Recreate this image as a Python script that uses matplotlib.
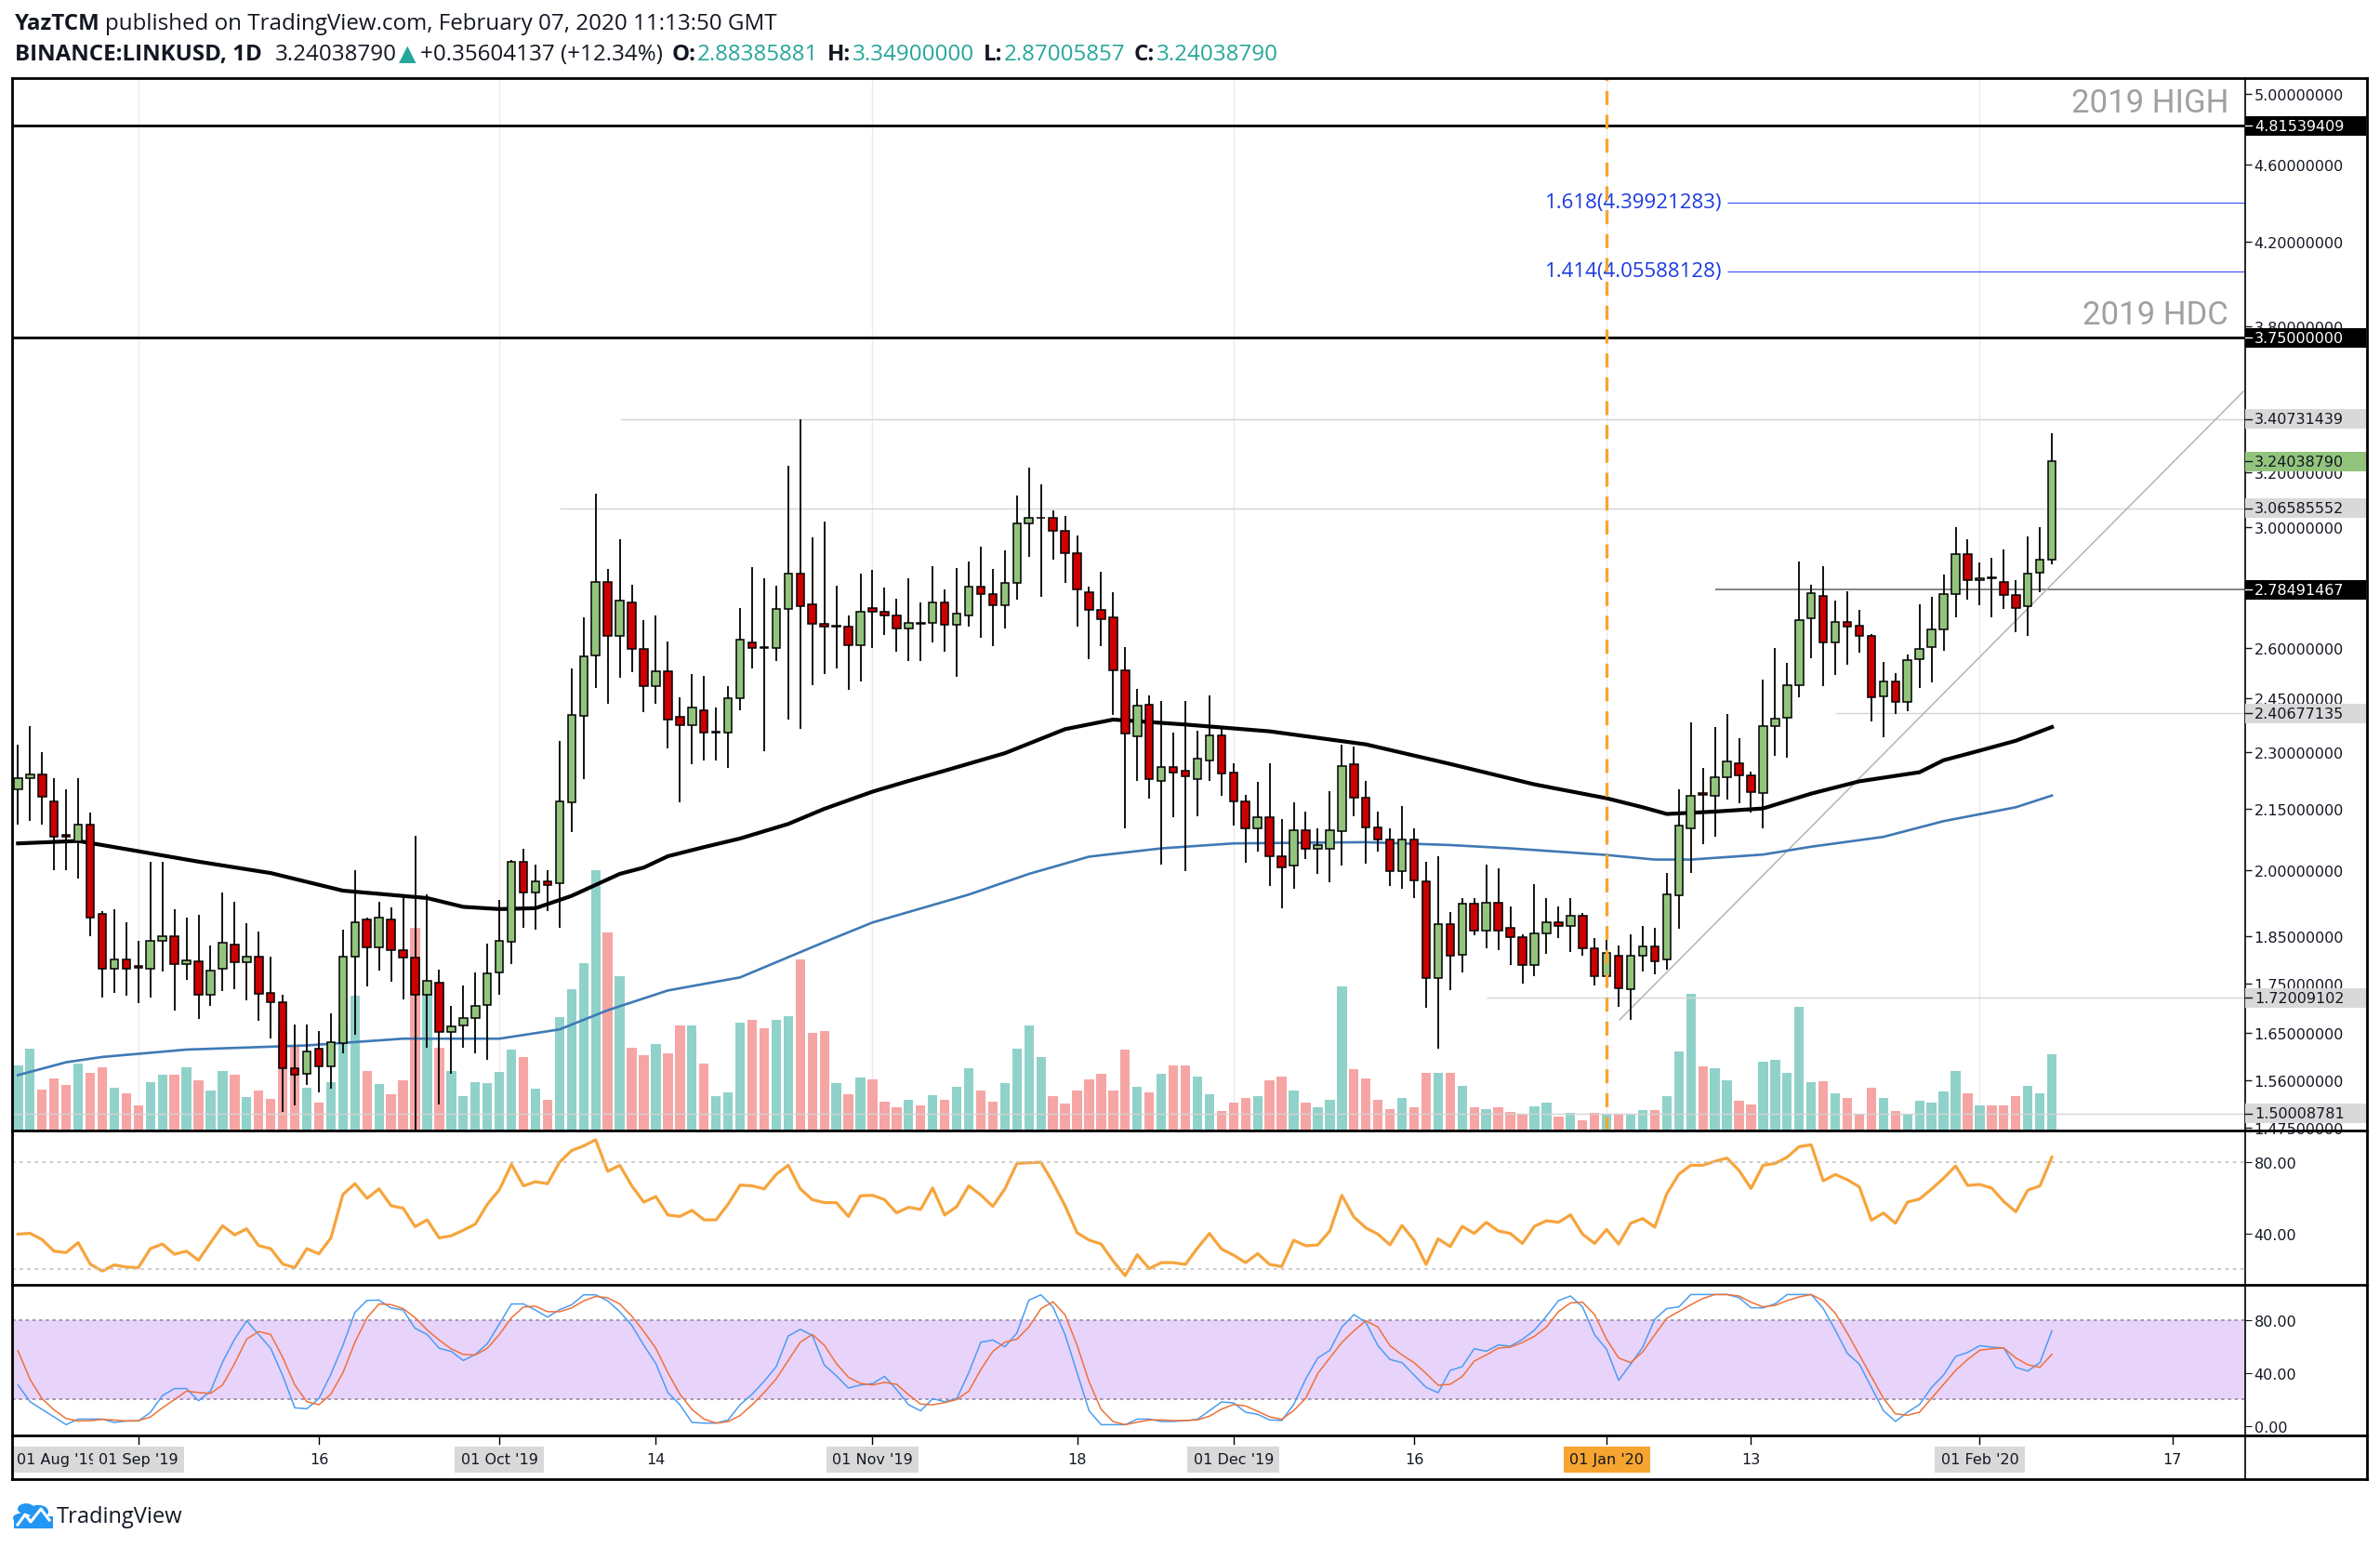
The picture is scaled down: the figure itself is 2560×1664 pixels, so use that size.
import numpy as np
import matplotlib
matplotlib.use("Agg")
import matplotlib.pyplot as plt
from matplotlib.lines import Line2D
from matplotlib.patches import Rectangle, Circle

# ---------------- data ----------------
start_date = np.datetime64('2019-08-22')

opens = [2.20, 2.23, 2.24, 2.17, 2.085, 2.07, 2.11, 1.90, 1.78, 1.80,
         1.786, 1.78, 1.84, 1.85, 1.79, 1.796, 1.727, 1.78, 1.832, 1.794,
         1.805, 1.73, 1.712, 1.583, 1.572, 1.619, 1.586, 1.63, 1.805, 1.886,
         1.825, 1.886, 1.819, 1.804, 1.727, 1.751, 1.652, 1.665, 1.680, 1.705,
         1.772, 1.837, 2.019, 1.947, 1.973, 1.970, 2.167, 2.40, 2.576, 2.809,
         2.638, 2.744, 2.597, 2.484, 2.530, 2.398, 2.374, 2.416, 2.352, 2.353,
         2.449, 2.618, 2.602, 2.60, 2.723, 2.838, 2.738, 2.675, 2.666, 2.666,
         2.608, 2.725, 2.713, 2.701, 2.660, 2.678, 2.677, 2.742, 2.671, 2.701,
         2.796, 2.770, 2.735, 2.808, 3.01, 3.031, 3.032, 2.985, 2.908, 2.777,
         2.719, 2.695, 2.533, 2.343, 2.432, 2.222, 2.258, 2.249, 2.226, 2.277,
         2.346, 2.244, 2.169, 2.100, 2.128, 2.032, 2.010, 2.096, 2.050, 2.050,
         2.095, 2.266, 2.179, 2.104, 2.073, 1.997, 2.073, 1.973, 1.761, 1.877,
         1.810, 1.922, 1.863, 1.925, 1.869, 1.847, 1.788, 1.856, 1.880, 1.872,
         1.896, 1.823, 1.765, 1.808, 1.737, 1.808, 1.828, 1.800, 1.942, 2.102,
         2.19, 2.184, 2.231, 2.268, 2.237, 2.19, 2.371, 2.394, 2.488, 2.694,
         2.764, 2.617, 2.682, 2.670, 2.636, 2.456, 2.499, 2.440, 2.565, 2.602,
         2.656, 2.772, 2.905, 2.816, 2.827, 2.81, 2.767, 2.73, 2.84, 2.88385881]
highs = [2.32, 2.37, 2.30, 2.23, 2.20, 2.23, 2.14, 1.905, 1.91, 1.88,
         1.84, 2.02, 2.02, 1.91, 1.89, 1.897, 1.83, 1.948, 1.927, 1.878,
         1.861, 1.806, 1.727, 1.666, 1.666, 1.653, 1.688, 1.865, 1.999, 1.89,
         1.927, 1.913, 1.938, 2.083, 1.943, 1.779, 1.703, 1.745, 1.773, 1.834,
         1.930, 2.025, 2.050, 2.014, 2.0, 2.330, 2.537, 2.697, 3.120, 2.853,
         2.957, 2.801, 2.686, 2.701, 2.621, 2.454, 2.521, 2.515, 2.422, 2.486,
         2.726, 2.859, 2.822, 2.797, 3.223, 3.407, 2.962, 3.018, 2.799, 2.702,
         2.839, 2.85, 2.791, 2.755, 2.822, 2.742, 2.864, 2.785, 2.858, 2.878,
         2.929, 2.853, 2.916, 3.114, 3.215, 3.153, 3.057, 3.038, 2.969, 2.796,
         2.846, 2.777, 2.602, 2.476, 2.459, 2.441, 2.353, 2.442, 2.357, 2.458,
         2.367, 2.268, 2.186, 2.219, 2.268, 2.124, 2.167, 2.143, 2.100, 2.195,
         2.320, 2.314, 2.223, 2.143, 2.100, 2.157, 2.100, 2.020, 2.034, 1.904,
         1.935, 1.935, 2.013, 2.004, 1.915, 1.853, 1.968, 1.936, 1.915, 1.936,
         1.901, 1.846, 1.857, 1.829, 1.853, 1.872, 1.868, 1.994, 2.199, 2.382,
         2.257, 2.367, 2.404, 2.337, 2.247, 2.505, 2.599, 2.553, 2.879, 2.802,
         2.864, 2.748, 2.779, 2.719, 2.642, 2.558, 2.523, 2.579, 2.738, 2.761,
         2.835, 3.0, 2.955, 2.877, 2.891, 2.921, 2.816, 2.966, 3.0, 3.349]
lows = [2.11, 2.12, 2.11, 2.00, 2.00, 1.98, 1.85, 1.72, 1.73, 1.725,
        1.71, 1.72, 1.775, 1.695, 1.756, 1.677, 1.703, 1.733, 1.737, 1.715,
        1.674, 1.639, 1.503, 1.515, 1.552, 1.539, 1.545, 1.611, 1.646, 1.744,
        1.776, 1.753, 1.716, 1.46, 1.621, 1.516, 1.572, 1.622, 1.610, 1.598,
        1.727, 1.790, 1.868, 1.864, 1.905, 1.868, 2.091, 2.228, 2.48, 2.435,
        2.511, 2.526, 2.411, 2.435, 2.308, 2.167, 2.266, 2.277, 2.277, 2.257,
        2.415, 2.538, 2.302, 2.561, 2.388, 2.363, 2.489, 2.522, 2.538, 2.474,
        2.499, 2.599, 2.639, 2.588, 2.560, 2.56, 2.617, 2.588, 2.513, 2.666,
        2.630, 2.606, 2.660, 2.753, 2.894, 2.762, 2.886, 2.806, 2.666, 2.567,
        2.606, 2.401, 2.102, 2.222, 2.177, 2.013, 2.130, 1.997, 2.131, 2.221,
        2.183, 2.107, 2.018, 2.044, 1.962, 1.911, 1.957, 2.027, 1.992, 1.972,
        2.010, 2.131, 2.015, 2.045, 1.963, 1.956, 1.934, 1.700, 1.619, 1.735,
        1.773, 1.851, 1.823, 1.819, 1.788, 1.749, 1.765, 1.811, 1.846, 1.816,
        1.807, 1.745, 1.757, 1.701, 1.675, 1.775, 1.769, 1.779, 1.866, 1.993,
        2.063, 2.08, 2.174, 2.164, 2.141, 2.101, 2.289, 2.285, 2.453, 2.569,
        2.485, 2.517, 2.549, 2.585, 2.384, 2.340, 2.404, 2.412, 2.48, 2.497,
        2.591, 2.695, 2.751, 2.734, 2.695, 2.723, 2.648, 2.637, 2.777, 2.87005857]
closes = [2.23, 2.24, 2.18, 2.08, 2.08, 2.11, 1.89, 1.78, 1.80, 1.78,
          1.783, 1.84, 1.85, 1.79, 1.797, 1.727, 1.776, 1.836, 1.793, 1.805,
          1.729, 1.711, 1.583, 1.570, 1.615, 1.586, 1.633, 1.805, 1.880, 1.825,
          1.891, 1.819, 1.803, 1.727, 1.754, 1.652, 1.663, 1.680, 1.703, 1.771,
          1.839, 2.019, 1.947, 1.973, 1.965, 2.169, 2.402, 2.574, 2.809, 2.638,
          2.749, 2.597, 2.485, 2.530, 2.390, 2.374, 2.422, 2.353, 2.354, 2.449,
          2.625, 2.601, 2.600, 2.723, 2.838, 2.730, 2.676, 2.666, 2.668, 2.608,
          2.713, 2.713, 2.701, 2.660, 2.679, 2.676, 2.742, 2.671, 2.708, 2.796,
          2.770, 2.735, 2.806, 3.010, 3.032, 3.033, 2.985, 2.908, 2.785, 2.719,
          2.689, 2.533, 2.349, 2.428, 2.228, 2.258, 2.243, 2.233, 2.281, 2.346,
          2.241, 2.168, 2.100, 2.128, 2.032, 2.006, 2.096, 2.050, 2.060, 2.096,
          2.262, 2.179, 2.104, 2.073, 1.997, 2.073, 1.975, 1.761, 1.877, 1.807,
          1.922, 1.863, 1.925, 1.863, 1.847, 1.788, 1.856, 1.880, 1.873, 1.896,
          1.823, 1.765, 1.813, 1.739, 1.808, 1.828, 1.796, 1.943, 2.109, 2.184,
          2.185, 2.231, 2.274, 2.237, 2.194, 2.371, 2.392, 2.488, 2.688, 2.773,
          2.618, 2.682, 2.666, 2.637, 2.454, 2.499, 2.440, 2.564, 2.597, 2.657,
          2.770, 2.905, 2.816, 2.824, 2.823, 2.768, 2.726, 2.839, 2.884, 3.24038790]
# relative volume units
volume = [70, 88, 44, 56, 49, 72, 62, 68, 46, 40, 27, 52, 60, 60, 68, 54, 43, 64, 60, 36,
          43, 34, 108, 90, 46, 30, 52, 114, 145, 64, 50, 39, 54, 218, 152, 89, 64, 37, 52, 51,
          63, 87, 79, 45, 33, 122, 152, 180, 280, 213, 166, 89, 81, 93, 83, 113, 113, 72, 37, 41,
          116, 119, 110, 119, 123, 184, 105, 107, 51, 39, 57, 55, 31, 25, 33, 27, 38, 33, 47, 67,
          43, 31, 51, 88, 113, 79, 37, 29, 43, 55, 61, 43, 87, 47, 41, 61, 70, 70, 58, 39,
          21, 30, 35, 37, 54, 58, 43, 30, 25, 33, 155, 66, 56, 33, 23, 35, 25, 62, 62, 62,
          48, 25, 23, 25, 20, 17, 26, 30, 15, 19, 11, 19, 18, 17, 18, 22, 22, 37, 85, 147,
          69, 67, 54, 32, 28, 74, 76, 62, 133, 52, 53, 40, 35, 18, 46, 35, 21, 18, 32, 30,
          42, 64, 40, 27, 27, 27, 37, 48, 40, 82]

# moving averages, read at sampled days (day index, price)
ma_black_day = [0, 5, 10, 15, 21, 27, 34, 37, 40, 43, 46, 50, 52, 54, 57, 60, 64, 67, 71, 74,
                77, 82, 87, 91, 97, 104, 112, 119, 126, 132, 135, 137, 141, 145, 149, 153,
                158, 160, 163, 166, 169]
ma_black = [2.064, 2.070, 2.045, 2.02, 1.993, 1.952, 1.935, 1.915, 1.91, 1.912, 1.94, 1.991,
            2.006, 2.033, 2.055, 2.076, 2.112, 2.15, 2.194, 2.222, 2.249, 2.296, 2.362, 2.389,
            2.375, 2.356, 2.32, 2.267, 2.213, 2.177, 2.154, 2.137, 2.143, 2.151, 2.189, 2.221,
            2.245, 2.277, 2.303, 2.33, 2.368]
ma_blue_day = [0, 4, 7, 14, 24, 32, 40, 45, 49, 54, 60, 67, 71, 79, 84, 89, 95, 101, 112, 119,
               124, 132, 136, 139, 145, 149, 155, 160, 166, 169]
ma_blue = [1.570, 1.594, 1.604, 1.618, 1.626, 1.639, 1.639, 1.657, 1.695, 1.735, 1.762, 1.837,
           1.88, 1.943, 1.991, 2.032, 2.052, 2.064, 2.067, 2.060, 2.052, 2.036, 2.025, 2.025,
           2.037, 2.056, 2.080, 2.119, 2.154, 2.184]

rsi = [39.6, 40.1, 36.6, 30.1, 29.3, 34.9, 22.9, 19.0, 22.4, 21.2,
       20.9, 31.5, 34.1, 28.4, 30.1, 25.0, 34.9, 44.3, 39.2, 42.6,
       33.2, 31.5, 22.9, 20.9, 31.5, 28.6, 37.5, 61.8, 67.8, 59.6,
       64.9, 55.5, 54.1, 43.8, 47.6, 37.5, 38.7, 41.8, 45.2, 56.3,
       64.4, 78.6, 66.6, 68.9, 67.8, 79.8, 86.3, 88.9, 92.3, 74.7,
       78.1, 66.6, 57.5, 60.6, 50.3, 49.5, 52.9, 47.6, 47.6, 56.3,
       67.0, 66.6, 64.9, 73.0, 78.1, 64.9, 58.9, 57.2, 57.2, 49.5,
       61.0, 61.3, 58.9, 51.5, 54.6, 53.4, 65.4, 50.3, 55.0, 66.6,
       61.5, 55.1, 64.9, 79.1, 79.5, 79.8, 68.3, 55.5, 40.4, 36.3,
       34.1, 24.6, 16.4, 28.1, 20.4,
       23.7, 23.7, 22.7, 31.8, 40.0, 31.3, 27.9, 23.7, 28.7, 22.7,
       21.5, 36.2, 33.1, 33.6, 41.4, 61.3, 49.2, 43.1, 39.6, 33.6,
       44.5, 36.2, 22.7, 37.0, 32.7, 44.0, 40.0, 46.2, 41.4, 40.0,
       34.4, 44.0, 47.1, 46.2, 50.4, 39.6, 34.4, 42.2, 34.1, 45.7,
       48.3, 43.5, 62.2, 73.1, 78.1, 78.1, 80.3, 82.1, 75.2, 65.1,
       78.1, 79.1, 82.6, 88.5, 89.5, 69.4, 72.9, 70.0, 66.0, 47.4,
       51.4, 45.7, 57.5, 59.2, 64.8, 70.8, 77.7, 66.8, 67.4, 65.3,
       57.8, 52.1, 64.2, 66.5, 82.6]
stoch_k = [31.0, 18.4, 12.6, 6.9, 1.1, 5.3, 5.3, 5.3, 2.8, 3.9,
           3.9, 10.3, 23.0, 28.3, 28.3, 19.1, 26.4, 48.3, 65.5, 79.3,
           69.0, 58.6, 37.9, 13.8, 13.1, 20.7, 39.1, 60.9, 85.7, 94.7,
           94.9, 89.0, 87.4, 73.6, 69.0, 58.6, 56.3, 49.4, 54.0, 62.1,
           77.0, 92.0, 92.0, 87.4, 82.1, 87.8, 91.3, 98.9, 98.9, 94.3,
           86.2, 75.9, 60.9, 47.1, 25.3, 16.1, 2.8, 2.3, 2.3, 4.6,
           16.1, 24.1, 33.8, 44.8, 67.8, 72.9, 68.3, 46.0, 37.9, 28.7,
           31.0, 32.0, 37.5, 27.6, 16.1, 11.5, 20.7, 18.4, 20.7, 40.2,
           63.2, 64.8, 59.8, 70.1, 94.9, 98.9, 89.7, 69.0, 40.2, 11.5,
           1.1, 1.1, 1.1, 5.3, 5.3,
           3.5, 3.5, 4.2, 5.1, 11.7, 18.2, 17.5, 10.5, 8.9, 4.7,
           4.2, 16.3, 35.5, 51.3, 57.1, 74.6, 84.0, 78.1, 60.6, 50.2,
           47.8, 38.5, 29.2, 25.2, 42.0, 44.8, 58.3, 56.4, 61.1, 60.2,
           65.3, 72.3, 82.8, 94.5, 98.0, 89.8, 68.8, 57.8, 34.5, 46.7,
           59.5, 80.5, 88.6, 89.8, 99.1, 99.1, 99.1, 99.1, 96.8, 89.1,
           89.1, 92.1, 99.1, 99.1, 99.1, 88.6, 72.3, 54.8, 46.7, 29.2,
           11.7, 3.5, 10.5, 16.3, 29.2, 38.5, 52.5, 55.5, 60.6, 59.5,
           58.8, 44.3, 41.5, 47.8, 71.8]
stoch_d = [56.8, 35.2, 20.7, 12.2, 5.7, 3.9, 4.1, 5.1, 4.6, 3.9,
           4.1, 6.9, 13.8, 20.0, 26.4, 25.3, 24.6, 31.0, 47.1, 65.5,
           71.3, 69.0, 51.7, 31.0, 18.4, 16.1, 24.1, 40.2, 63.2, 81.6,
           92.0, 91.5, 88.5, 81.6, 72.4, 64.8, 58.2, 54.0, 53.6, 58.6,
           69.0, 81.6, 89.7, 90.3, 86.2, 86.2, 89.0, 94.3, 97.7, 96.6,
           92.0, 82.8, 71.3, 58.6, 40.2, 24.1, 12.6, 5.3, 2.3, 3.4,
           8.0, 16.1, 25.3, 35.6, 49.4, 63.2, 69.0, 60.9, 47.1, 36.8,
           32.2, 31.0, 32.9, 31.5, 23.7, 16.6, 16.1, 17.7, 20.0, 26.4,
           42.5, 56.3, 63.2, 65.5, 74.7, 88.5, 93.6, 83.9, 60.9, 33.3,
           12.6, 3.4, 1.1, 3.0, 4.6,
           4.7, 4.2, 4.2, 4.7, 7.5, 12.8, 16.3, 15.2, 11.2, 7.0,
           5.1, 11.7, 21.0, 39.7, 51.3, 63.0, 71.8, 79.3, 74.6, 60.6,
           53.6, 47.8, 39.7, 30.8, 31.5, 37.3, 49.0, 53.6, 58.8, 59.5,
           63.0, 67.6, 74.6, 86.3, 92.8, 93.3, 84.0, 65.3, 51.3, 47.8,
           56.0, 68.8, 81.2, 86.3, 91.4, 96.1, 99.1, 99.1, 98.0, 93.3,
           89.8, 91.0, 94.5, 97.3, 99.1, 94.5, 85.1, 70.0, 53.6, 37.3,
           21.0, 9.3, 8.2, 10.5, 21.0, 31.5, 42.0, 50.2, 57.1, 58.3,
           58.8, 51.3, 46.2, 44.3, 54.1]

price_ticks = [5.0, 4.6, 4.2, 3.8, 3.2, 3.0, 2.6, 2.45, 2.3, 2.15, 2.0, 1.85, 1.75, 1.65, 1.56, 1.475]
# (price, start date or None for full width, colour, width)
levels = [(4.81539409, None, 'black', 2.0),
          (3.75, None, 'black', 2.0),
          (4.39921283, '2020-01-11', '#3d5afe', 0.9),
          (4.05588128, '2020-01-11', '#3d5afe', 0.9),
          (3.40731439, '2019-10-11', '#d4d4d4', 1.0),
          (3.06585552, '2019-10-06', '#d4d4d4', 1.0),
          (2.78491467, '2020-01-10', '#7a7a7a', 1.3),
          (2.40677135, '2020-01-20', '#d4d4d4', 1.0),
          (1.72009102, '2019-12-22', '#d4d4d4', 1.0),
          (1.50008781, None, '#d4d4d4', 1.0)]
fib_labels = [(4.39921283, '1.618(4.39921283)'), (4.05588128, '1.414(4.05588128)')]
zone_labels = [(4.81539409, '2019 HIGH'), (3.75, '2019 HDC')]
# axis price tags: (price, style)
price_tags = [(4.81539409, 'black'), (3.75, 'black'), (3.40731439, 'gray'),
              (3.24038790, 'green'), (3.06585552, 'gray'), (2.78491467, 'black'),
              (2.40677135, 'gray'), (1.72009102, 'gray'), (1.50008781, 'gray')]
trend_dates = ['2020-01-02 02:00', '2020-02-22 22:00']
trend_prices = [1.676, 3.52]

tick_dates = ['2019-09-01', '2019-09-16', '2019-10-01', '2019-10-14', '2019-11-01', '2019-11-18',
              '2019-12-01', '2019-12-16', '2020-01-01', '2020-01-13', '2020-02-01', '2020-02-17']
tick_labels = ["01 Sep '19", '16', "01 Oct '19", '14', "01 Nov '19", '18',
               "01 Dec '19", '16', "01 Jan '20", '13', "01 Feb '20", '17']
month_dates = ['2019-09-01', '2019-10-01', '2019-11-01', '2019-12-01', '2020-01-01', '2020-02-01']
marker_date = '2020-01-01'


def day(d):
    return (np.datetime64(d, 'm') - np.datetime64(start_date, 'm')) / np.timedelta64(1, 'D')


# ---------------- figure ----------------
W, H = 2560, 1665
plt.rcParams['font.family'] = 'DejaVu Sans'
fig = plt.figure(figsize=(W / 100, H / 100), dpi=100)
fig.patch.set_facecolor('white')


def rect(x0, y0, x1, y1):
    return [x0 / W, 1 - y1 / H, (x1 - x0) / W, (y1 - y0) / H]


LEFT, RIGHT, OUTER = 13, 2415, 2546
TOP, Y_RSI, Y_ST, Y_AX, BOTTOM = 85, 1217, 1383, 1545, 1592
XLIM = (-0.49, 185.06)

ax_vol = fig.add_axes(rect(LEFT, TOP, RIGHT, Y_RSI), zorder=0)
ax = fig.add_axes(rect(LEFT, TOP, RIGHT, Y_RSI), zorder=1)
ax_rsi = fig.add_axes(rect(LEFT, Y_RSI, RIGHT, Y_ST))
ax_st = fig.add_axes(rect(LEFT, Y_ST, RIGHT, Y_AX))
ax_x = fig.add_axes(rect(LEFT, Y_AX, RIGHT, BOTTOM))
ax.patch.set_alpha(0)

for a in (ax_vol, ax, ax_rsi, ax_st, ax_x):
    a.set_xlim(*XLIM)
    for s in a.spines.values():
        s.set_visible(False)
    a.tick_params(axis='x', bottom=False, labelbottom=False)

x = np.arange(len(closes))
o, h, l, c = (np.array(v) for v in (opens, highs, lows, closes))
up = c >= o

# volume + month grid
for d in month_dates:
    ax_vol.axvline(day(d), color='#ebebeb', lw=1.0, zorder=0)
ax_vol.bar(x, volume, width=0.8, color=np.where(up, '#90d2ca', '#f6a5a5'), zorder=1)
ax_vol.set_ylim(0, max(volume) / 0.247)
ax_vol.set_yticks([])

# price panel
ax.set_yscale('log')
ax.set_ylim(1.4706, 5.095)
for price, d0, col, lw in levels:
    x0 = XLIM[0] if d0 is None else day(d0)
    ax.plot([x0, XLIM[1]], [price, price], color=col, lw=lw, zorder=1, solid_capstyle='butt')
ax.plot([day(d) for d in trend_dates], trend_prices, color='#b4b4b4', lw=1.1, zorder=1)
ax.plot(ma_blue_day, ma_blue, color='#3f79b5', lw=1.9, zorder=2, solid_joinstyle='round')
ax.plot(ma_black_day, ma_black, color='black', lw=3.0, zorder=2, solid_joinstyle='round')
ax.vlines(x, l, h, color='black', lw=1.3, zorder=3)
ax.bar(x, np.abs(c - o), bottom=np.minimum(o, c), width=0.66,
       color=np.where(up, '#93c47d', '#cc0000'), edgecolor='black', linewidth=1.1, zorder=4)
ax.axvline(day(marker_date), color='#f7a531', lw=2.4, ls=(0, (4.5, 3.2)), zorder=5)

for price, txt in fib_labels:
    ax.annotate(txt, xy=(day('2020-01-11'), price), xytext=(-4, 0), textcoords='offset points',
                ha='right', va='center', fontsize=16, color='#1c3ae0', family='Open Sans')
for price, txt in zone_labels:
    ax.annotate(txt, xy=(0.9925, price), xycoords=('axes fraction', 'data'), xytext=(0, 11),
                textcoords='offset points', ha='right', va='baseline', fontsize=25,
                color='#a0a0a0', family='Roboto')

ax.yaxis.tick_right()
ax.yaxis.set_minor_locator(matplotlib.ticker.NullLocator())
ax.set_yticks(price_ticks)
ax.set_yticklabels([f'{v:.8f}' for v in price_ticks])
ax.tick_params(axis='y', length=5, width=1, pad=2, labelsize=11.5, colors='#131722')

# RSI
ax_rsi.plot(x, rsi, color='#f7a43c', lw=2.3)
for lv in (80, 20):
    ax_rsi.axhline(lv, color='#c6c6c6', lw=1.3, ls=(0, (2, 2.5)))
ax_rsi.set_ylim(11.3, 97.5)
ax_rsi.yaxis.tick_right()
ax_rsi.set_yticks([40, 80])
ax_rsi.set_yticklabels(['40.00', '80.00'])
ax_rsi.tick_params(axis='y', length=5, pad=2, labelsize=11.5, colors='#131722')

# Stoch RSI
ax_st.axhspan(20, 80, color='#e8d3fb', lw=0)
for lv in (80, 20):
    ax_st.axhline(lv, color='#9c90aa', lw=1.3, ls=(0, (2, 2)))
ax_st.plot(x, stoch_k, color='#4b9df2', lw=1.1)
ax_st.plot(x, stoch_d, color='#ef7139', lw=1.1)
ax_st.set_ylim(-7, 106.4)
ax_st.yaxis.tick_right()
ax_st.set_yticks([0, 40, 80])
ax_st.set_yticklabels(['0.00', '40.00', '80.00'])
ax_st.tick_params(axis='y', length=5, pad=2, labelsize=11.5, colors='#131722')

# time axis
ax_x.set_ylim(0, 1)
ax_x.set_yticks([])
ax_x.text(0.002, 0.45, "01 Aug '19", transform=ax_x.transAxes, ha='left', va='center',
          fontsize=11.5, color='#131722', zorder=2,
          bbox=dict(boxstyle='square,pad=0.4', fc='#d9d9d9', ec='none'), clip_on=True)
for d, lab in zip(tick_dates, tick_labels):
    xd = day(d)
    ax_x.plot([xd, xd], [0.8, 1.0], color='black', lw=1)
    box = None
    if lab.startswith('01'):
        box = dict(boxstyle='square,pad=0.4', fc='#f7a531' if d == marker_date else '#d9d9d9', ec='none')
    ax_x.text(xd, 0.45, lab, ha='center', va='center', fontsize=11.5, color='#131722',
              bbox=box, zorder=3)

# ---------------- frame ----------------
def hline(py, x0=LEFT, x1=OUTER, lw=2.0, col='black'):
    fig.add_artist(Line2D([x0 / W, x1 / W], [1 - py / H, 1 - py / H], color=col, lw=lw))


def vline(px, y0=TOP, y1=BOTTOM, lw=2.0, col='black'):
    fig.add_artist(Line2D([px / W, px / W], [1 - y0 / H, 1 - y1 / H], color=col, lw=lw))


for py in (TOP, Y_RSI, Y_ST, Y_AX, BOTTOM):
    hline(py)
vline(LEFT)
vline(OUTER)
vline(RIGHT, lw=1.2)

# price tags on the axis
tag_style = {'black': ('black', 'white'), 'gray': ('#d9d9d9', '#131722'), 'green': ('#93c47d', '#131722')}
inv = fig.transFigure.inverted()
for price, style in price_tags:
    bg, fg = tag_style[style]
    yf = inv.transform(ax.transData.transform((0, price)))[1]
    hh = 21 / H
    fig.add_artist(Rectangle((RIGHT / W, yf - hh / 2), (OUTER - RIGHT - 1) / W, hh,
                             transform=fig.transFigure, fc=bg, ec='none', zorder=5))
    fig.add_artist(Line2D([RIGHT / W, (RIGHT + 7) / W], [yf, yf], color=fg, lw=1, zorder=6))
    fig.text((RIGHT + 10) / W, yf, f'{price:.8f}', color=fg, fontsize=11.5,
             ha='left', va='center', zorder=6)

# ---------------- header ----------------
def chain(pieces, px, py, size):
    prev = None
    for txt, col, wt, gap in pieces:
        kw = dict(color=col, fontweight=wt, fontsize=size, family=['Open Sans', 'DejaVu Sans'],
                  annotation_clip=False)
        if prev is None:
            prev = ax.annotate(txt, xy=(px / W, 1 - py / H), xycoords='figure fraction',
                               ha='left', va='baseline', **kw)
        else:
            prev = ax.annotate(txt, xy=(1, 0), xycoords=prev, xytext=(gap, 0),
                               textcoords='offset points', ha='left', va='bottom', **kw)


dark, teal = '#131722', '#26a69a'
chain([('YazTCM', dark, 'bold', 0),
       ('published on TradingView.com, February 07, 2020 11:13:50 GMT', dark, 'normal', 4)],
      16, 32, 17.4)
chain([('BINANCE:LINKUSD, 1D', dark, 'bold', 0),
       ('3.24038790', dark, 'normal', 10),
       ('▲', teal, 'normal', 2),
       ('+0.35604137 (+12.34%)', dark, 'normal', 3),
       ('O:', dark, 'bold', 7), ('2.88385881', teal, 'normal', 1),
       ('H:', dark, 'bold', 7), ('3.34900000', teal, 'normal', 1),
       ('L:', dark, 'bold', 7), ('2.87005857', teal, 'normal', 1),
       ('C:', dark, 'bold', 7), ('3.24038790', teal, 'normal', 1)],
      16, 65, 17.4)

# ---------------- TradingView logo ----------------
blue = '#2196f3'
for cx, cy, r in [(28, 1624, 9), (41, 1627, 11), (22, 1634, 8)]:
    fig.add_artist(Circle((cx / W, 1 - cy / H), r / W, transform=fig.transFigure, fc=blue, ec='none'))
fig.add_artist(Rectangle((15 / W, 1 - 1645 / H), 42 / W, 13 / H, transform=fig.transFigure,
                         fc=blue, ec='none'))
zx = [19, 27, 33, 44, 53]
zy = [1641, 1630, 1638, 1624, 1636]
fig.add_artist(Line2D([v / W for v in zx], [1 - v / H for v in zy], color='white', lw=2.2))
fig.text(61 / W, 1 - 1638 / H, 'TradingView', fontsize=17, color=dark, family='Open Sans',
         ha='left', va='baseline')

fig.savefig('out.png', dpi=100, facecolor='white')
